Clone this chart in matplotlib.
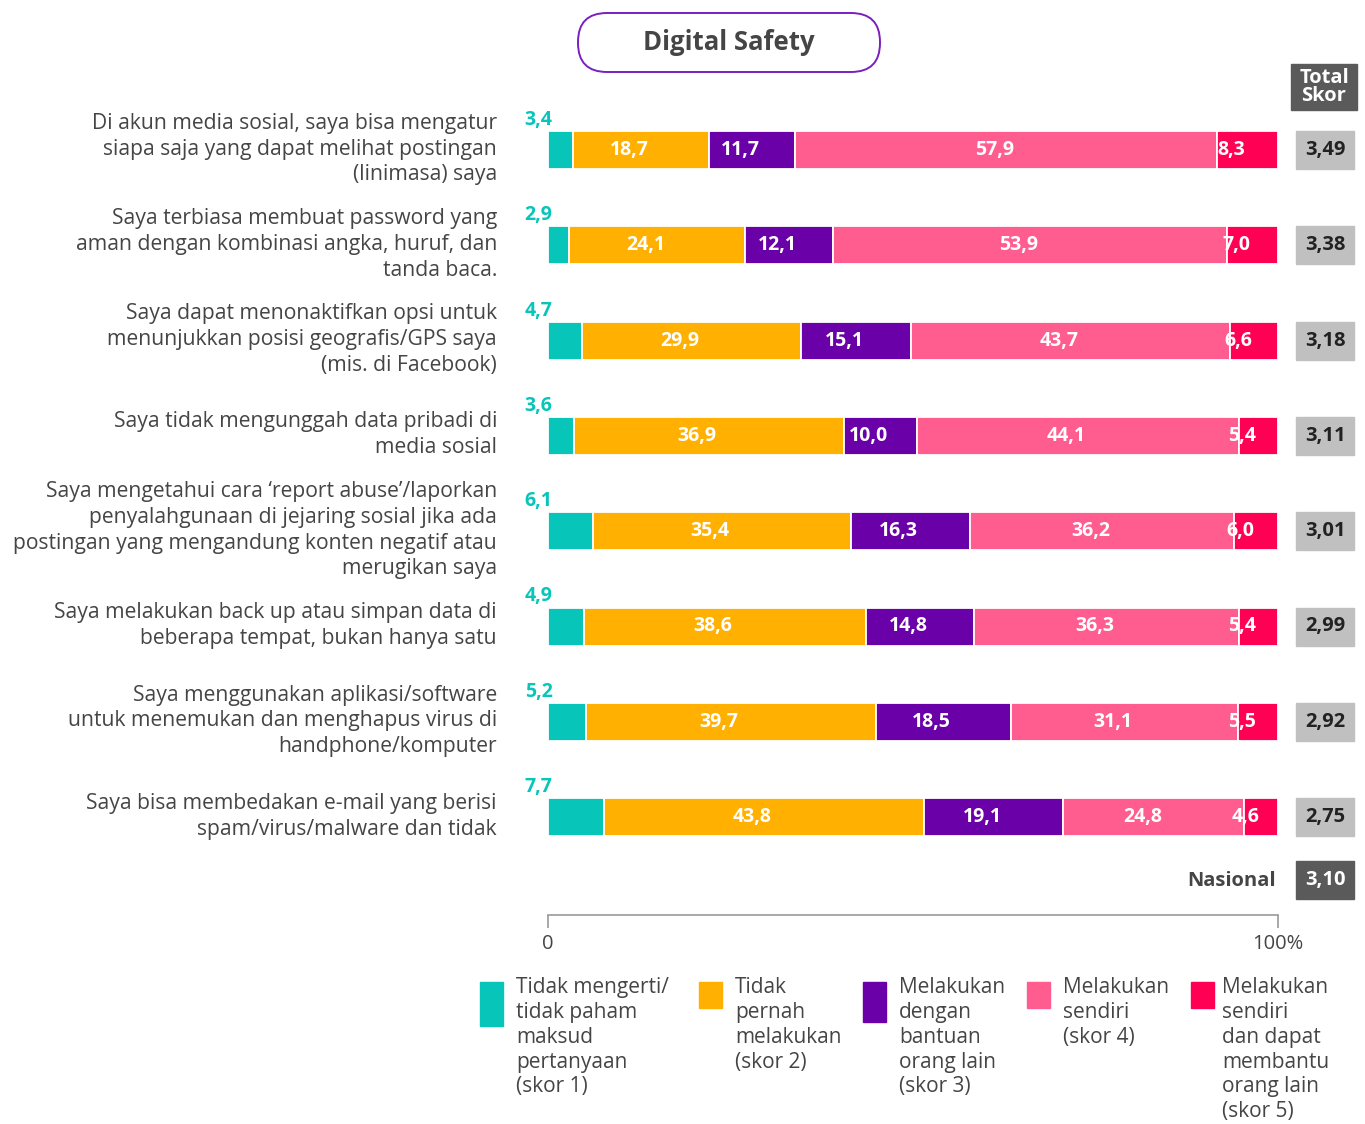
import matplotlib
matplotlib.use("Agg")
import matplotlib.pyplot as plt
from matplotlib.patches import Rectangle, FancyBboxPatch
import numpy as np

plt.rcParams['font.family'] = ['Open Sans', 'DejaVu Sans']

questions = [
    "Di akun media sosial, saya bisa mengatur\nsiapa saja yang dapat melihat postingan\n(linimasa) saya",
    "Saya terbiasa membuat password yang\naman dengan kombinasi angka, huruf, dan\ntanda baca.",
    "Saya dapat menonaktifkan opsi untuk\nmenunjukkan posisi geografis/GPS saya\n(mis. di Facebook)",
    "Saya tidak mengunggah data pribadi di\nmedia sosial",
    "Saya mengetahui cara \u2018report abuse\u2019/laporkan\npenyalahgunaan di jejaring sosial jika ada\npostingan yang mengandung konten negatif atau\nmerugikan saya",
    "Saya melakukan back up atau simpan data di\nbeberapa tempat, bukan hanya satu",
    "Saya menggunakan aplikasi/software\nuntuk menemukan dan menghapus virus di\nhandphone/komputer",
    "Saya bisa membedakan e-mail yang berisi\nspam/virus/malware dan tidak",
]
skor1 = [3.4, 2.9, 4.7, 3.6, 6.1, 4.9, 5.2, 7.7]
skor2 = [18.7, 24.1, 29.9, 36.9, 35.4, 38.6, 39.7, 43.8]
skor3 = [11.7, 12.1, 15.1, 10.0, 16.3, 14.8, 18.5, 19.1]
skor4 = [57.9, 53.9, 43.7, 44.1, 36.2, 36.3, 31.1, 24.8]
skor5 = [8.3, 7.0, 6.6, 5.4, 6.0, 5.4, 5.5, 4.6]
totals = [3.49, 3.38, 3.18, 3.11, 3.01, 2.99, 2.92, 2.75]
nasional = 3.10
legend_labels = [
    "Tidak mengerti/\ntidak paham\nmaksud\npertanyaan\n(skor 1)",
    "Tidak\npernah\nmelakukan\n(skor 2)",
    "Melakukan\ndengan\nbantuan\norang lain\n(skor 3)",
    "Melakukan\nsendiri\n(skor 4)",
    "Melakukan\nsendiri\ndan dapat\nmembantu\norang lain\n(skor 5)",
]
title = "Digital Safety"

colors = ["#07C5B9", "#FFB000", "#6A00A8", "#FF5C8F", "#FF0054"]
TXT = "#454545"

W, H = 1365, 1124
fig = plt.figure(figsize=(W / 100, H / 100), dpi=100)

def fx(x):
    return x / W

def fy(y):
    return 1 - y / H

# overlay axes in pixel coordinates for decorations
ov = fig.add_axes([0, 0, 1, 1])
ov.set_xlim(0, W)
ov.set_ylim(H, 0)
ov.axis('off')

# main bar axes
x0, x1 = 548, 1278
ytop, ybot = 100, 960
ax = fig.add_axes([fx(x0), fy(ybot), (x1 - x0) / W, (ybot - ytop) / H])
ax.set_xlim(0, 100)
ax.set_ylim(ybot, ytop)
ax.patch.set_alpha(0)

series = [skor1, skor2, skor3, skor4, skor5]
n = len(questions)
ycent = np.array([150 + i * 95.3 for i in range(n)])
bh = 38
left = np.zeros(n)
for k, s in enumerate(series):
    s = np.array(s)
    ax.barh(ycent, s, left=left, height=bh, color=colors[k],
            edgecolor='white', linewidth=1.3)
    for i in range(n):
        if k == 0:
            ax.text(-3.2, ycent[i] - 30, f"{s[i]:.1f}".replace('.', ','),
                    color=colors[0], fontsize=14, fontweight='bold',
                    ha='left', va='center')
        else:
            c = left[i] + s[i] / 2
            off = -2.2 if k == 4 else -1.6
            ax.text(c + off, ycent[i], f"{s[i]:.1f}".replace('.', ','),
                    color='white', fontsize=14, fontweight='bold',
                    ha='center', va='center')
    left = left + s

# axis
for sp in ['top', 'right', 'left']:
    ax.spines[sp].set_visible(False)
ax.spines['bottom'].set_position(('data', 915))
ax.spines['bottom'].set_color('#999999')
ax.spines['bottom'].set_linewidth(1.2)
ax.set_yticks([])
ax.set_xticks([0, 100])
ax.set_xticklabels(['0', '100%'])
ax.tick_params(axis='x', length=9, width=1.2, color='#999999',
               labelsize=14.5, labelcolor=TXT, pad=5)

# question labels
for i, q in enumerate(questions):
    ov.text(497, ycent[i] - 1, q, ha='right', va='center', fontsize=15.2,
            color=TXT, linespacing=1.3)

# total skor header
ov.add_patch(Rectangle((1291, 64), 66, 46, color='#5A5A5A'))
ov.text(1324, 87, "Total\nSkor", ha='center', va='center', color='white',
        fontsize=14.5, fontweight='bold', linespacing=0.9)
for i, t in enumerate(totals):
    ov.add_patch(Rectangle((1296, ycent[i] - 19), 58, 38, color='#C0C0C0'))
    ov.text(1325, ycent[i], f"{t:.2f}".replace('.', ','), ha='center',
            va='center', color='#222222', fontsize=14.5, fontweight='bold')

# nasional
ov.add_patch(Rectangle((1296, 861), 58, 38, color='#5A5A5A'))
ov.text(1325, 880, f"{nasional:.2f}".replace('.', ','), ha='center',
        va='center', color='white', fontsize=14.5, fontweight='bold')
ov.text(1276, 881, "Nasional", ha='right', va='center', color=TXT,
        fontsize=14.5, fontweight='bold')

# title
ov.add_patch(FancyBboxPatch((578, 13), 302, 59,
                            boxstyle="round,pad=0,rounding_size=29",
                            facecolor='white', edgecolor='#7A1FC0',
                            linewidth=1.4))
ov.text(729, 43, title, ha='center', va='center', color=TXT,
        fontsize=18.5, fontweight='bold')

# legend
leg_box_x = [480, 699, 863, 1027, 1191]
leg_txt_x = [516, 735, 899, 1063, 1222]
leg_box_h = [44, 26, 40, 26, 26]
for k in range(5):
    ov.add_patch(Rectangle((leg_box_x[k], 982), 23, leg_box_h[k],
                           color=colors[k]))
    ov.text(leg_txt_x[k], 977, legend_labels[k], ha='left', va='top',
            fontsize=15, color=TXT, linespacing=1.24)

fig.savefig("out.png", dpi=100, facecolor='white')
